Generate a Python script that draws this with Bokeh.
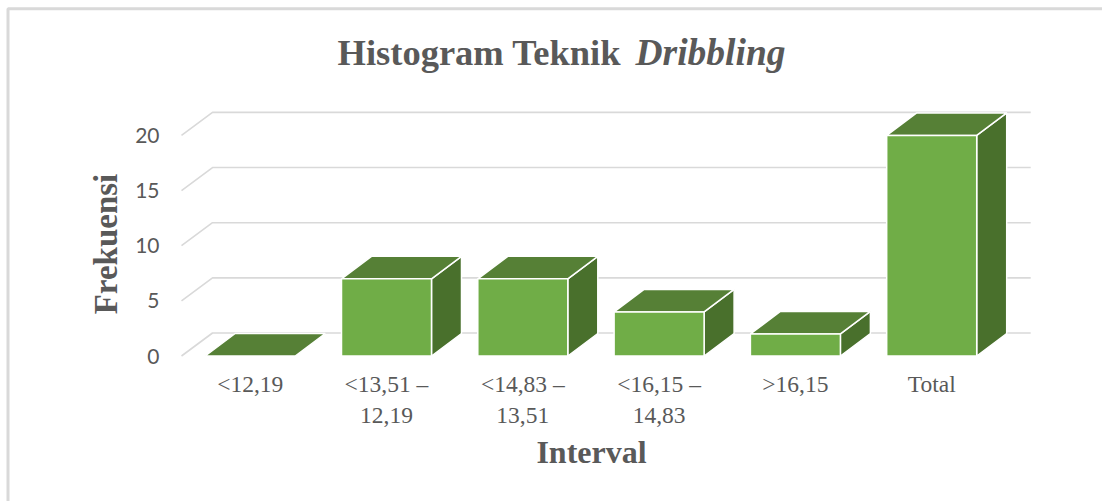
from math import pi
from bokeh.plotting import figure
from bokeh.embed import file_html
from bokeh.resources import INLINE
from bokeh.models import Range1d, FixedTicker, Label, PolyAnnotation

categories = ["<12,19", "<13,51 –\n12,19", "<14,83 –\n13,51", "<16,15 –\n14,83", ">16,15", "Total"]
frequencies = [0, 7, 7, 4, 2, 20]
y_ticks = [0, 5, 10, 15, 20]
title_main = "Histogram Teknik"
title_italic = "Dribbling"
x_title = "Interval"
y_title = "Frekuensi"

GREY = "#595959"
W, H = 1102, 501
PX_PER_CAT = 136.3
PX_PER_UNIT = 11.03
CAT0_PX = 249.7
BASE_PX = 355.5

x_rng = Range1d((0 - CAT0_PX) / PX_PER_CAT, (W - CAT0_PX) / PX_PER_CAT)
y_rng = Range1d((BASE_PX - H) / PX_PER_UNIT, (BASE_PX - 0) / PX_PER_UNIT)

p = figure(width=W, height=H, x_range=x_rng, y_range=y_rng,
           output_backend="svg", toolbar_location=None,
           min_border=0, outline_line_color=None, background_fill_color="white",
           border_fill_color="white")
p.grid.visible = False

half = 45 / PX_PER_CAT
gdx, gdy = 31 / PX_PER_CAT, 23 / PX_PER_UNIT
bdx, bdy = 30 / PX_PER_CAT, 22.5 / PX_PER_UNIT
x_start = (181 - CAT0_PX) / PX_PER_CAT
x_end = 5 + half + bdx + 24 / PX_PER_CAT

# wall / floor grid lines
p.multi_line([[x_start, x_start + gdx, x_end] for _ in y_ticks],
             [[t, t + gdy, t + gdy] for t in y_ticks],
             line_color="#d9d9d9", line_width=1.6)

n = range(len(categories))
L = [i - half for i in n]
R = [i + half for i in n]

tx = [[L[i], L[i] + bdx, R[i] + bdx, R[i]] for i in n]
ty = [[frequencies[i], frequencies[i] + bdy, frequencies[i] + bdy, frequencies[i]] for i in n]
sx = [[R[i], R[i] + bdx, R[i] + bdx, R[i]] for i in n if frequencies[i] > 0]
sy = [[0, bdy, frequencies[i] + bdy, frequencies[i]] for i in n if frequencies[i] > 0]
fi = [i for i in n if frequencies[i] > 0]

p.patches(sx, sy, fill_color="#49702c", line_color="white", line_width=1.5)
p.patches(tx, ty, fill_color="#568036", line_color="white", line_width=1.5)
p.quad(left=[L[i] for i in fi], right=[R[i] for i in fi],
       bottom=[0] * len(fi), top=[frequencies[i] for i in fi],
       fill_color="#70ad47", line_color="white", line_width=1.5)

ax = p.yaxis[0]
ax.ticker = FixedTicker(ticks=y_ticks)
ax.axis_line_color = None
ax.major_tick_line_color = None
ax.minor_tick_line_color = None
ax.major_label_text_font = "Lato"
ax.major_label_text_font_size = "21px"
ax.major_label_text_color = GREY
ax.major_label_standoff = -165

bx = p.xaxis[0]
bx.ticker = FixedTicker(ticks=list(n))
bx.major_label_overrides = {i: c for i, c in zip(n, categories)}
bx.axis_line_color = None
bx.major_tick_line_color = None
bx.minor_tick_line_color = None
bx.major_label_text_font = "Liberation Serif"
bx.major_label_text_font_size = "23.5px"
bx.major_label_text_color = GREY
bx.major_label_standoff = -137


def text(px, py, s, size, style="bold", align="left", angle=0):
    # positions are window pixels, converted to the frame-relative screen units
    p.add_layout(Label(x=px, y=H - py, x_units="screen", y_units="screen", text=s,
                       text_font="Liberation Serif", text_font_style=style,
                       text_font_size=size, text_color=GREY, text_align=align,
                       text_baseline="alphabetic", angle=angle))


text(337, 52, title_main, "36.5px")
text(635, 52, title_italic, "37.5px", style="bold italic")
text(591, 451, x_title, "32px", align="center")
text(105.5, 243.5, y_title, "33px", align="center", angle=pi / 2)

p.add_layout(PolyAnnotation(xs=[7.5, 7.5, W + 5, W + 5],
                            ys=[-5, H - 8.25, H - 8.25, -5],
                            xs_units="screen", ys_units="screen",
                            fill_color=None, line_color="#d9d9d9", line_alpha=1.0, line_width=3))

open("out.html", "w").write(file_html(p, INLINE))
